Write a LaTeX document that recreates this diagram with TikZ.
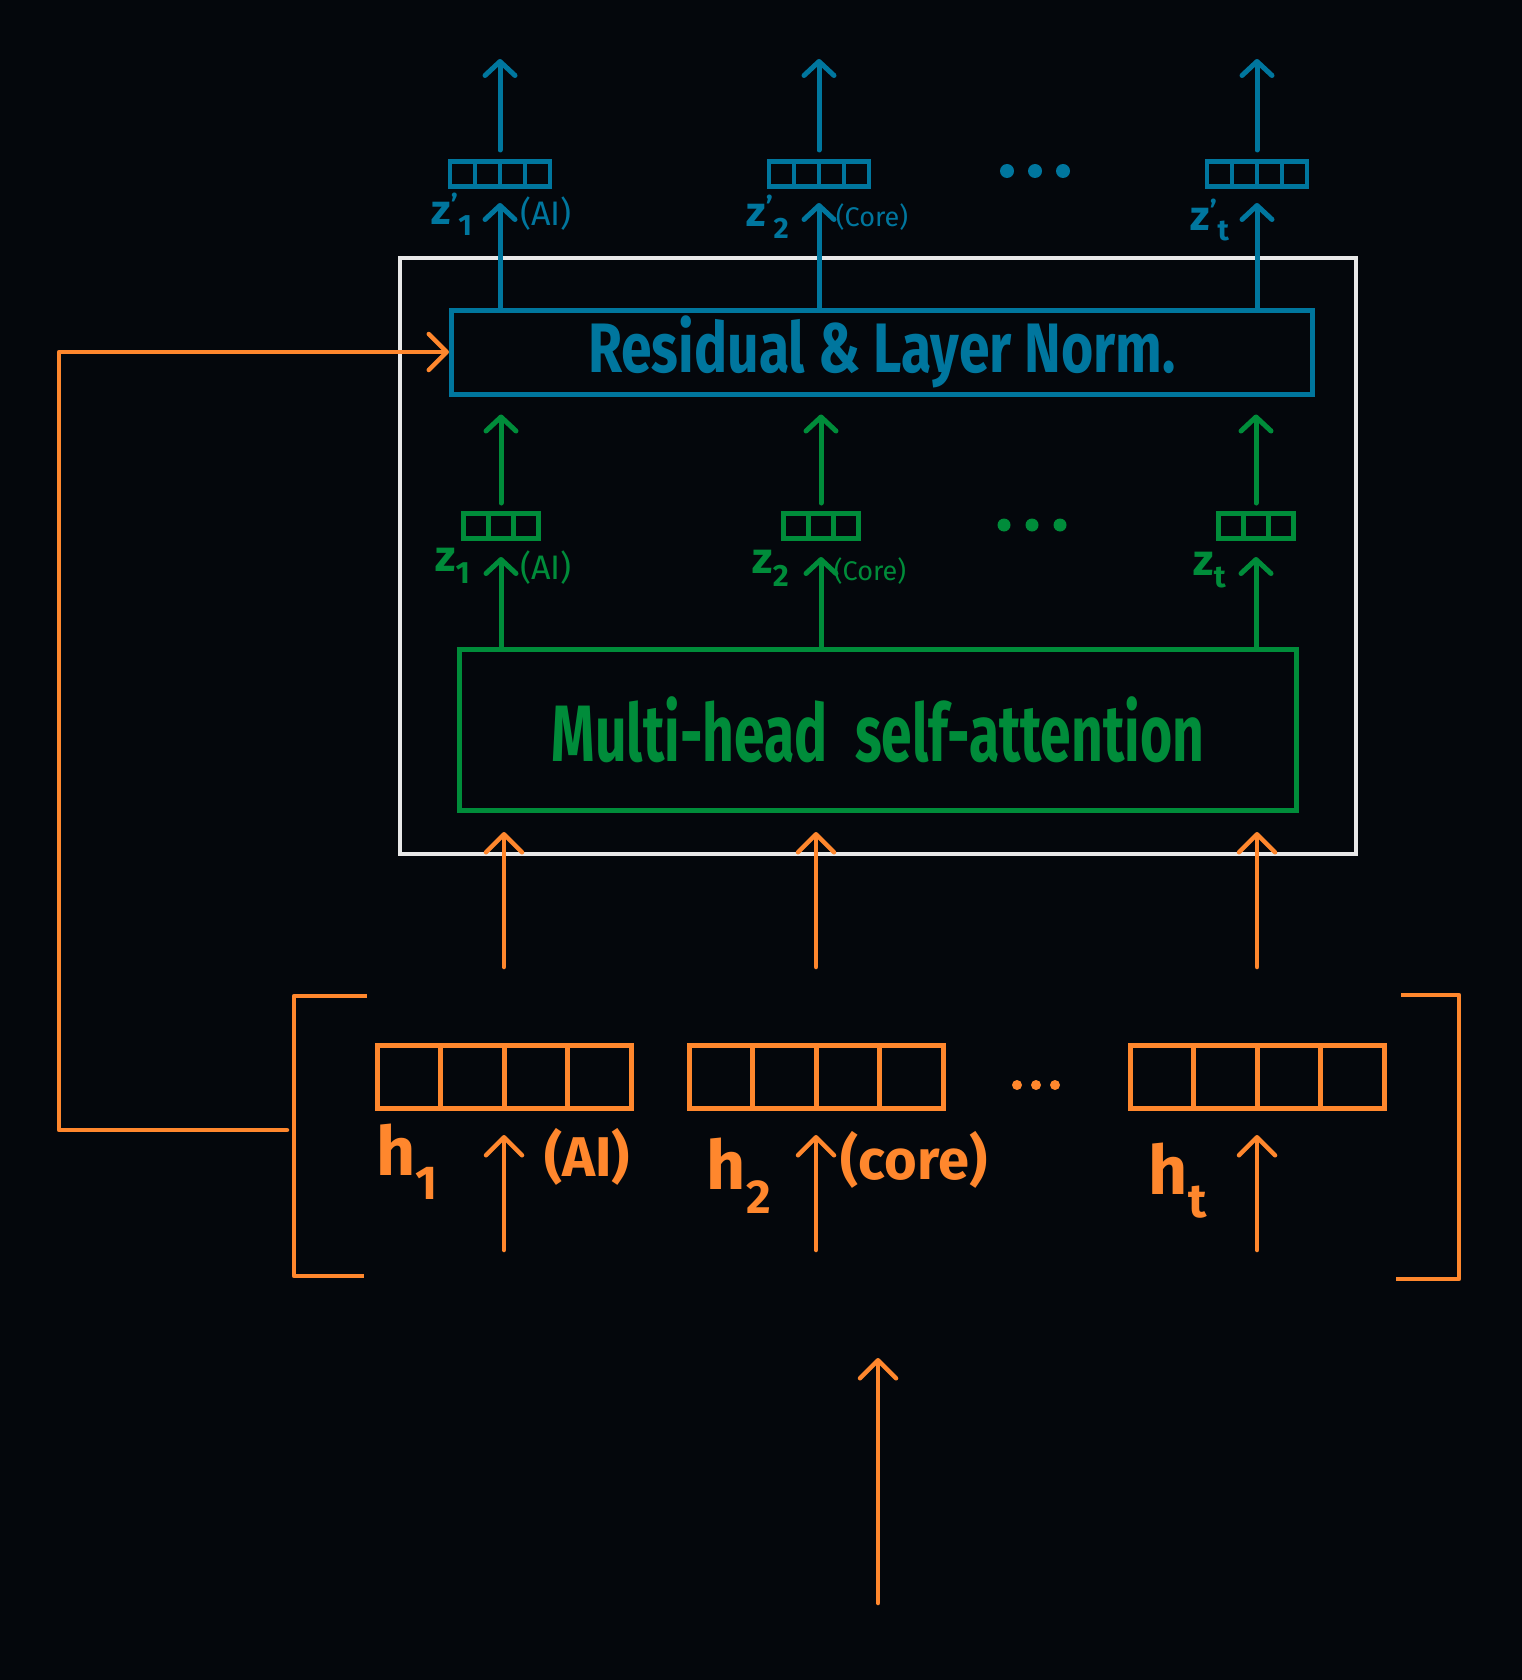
\documentclass[tikz,border=0pt]{standalone}
\usepackage{fontspec}
\setmainfont{Fira Sans}
\usepackage{graphicx}
\usetikzlibrary{arrows.meta}

\definecolor{bgdark}{RGB}{4,7,12}
\definecolor{normblue}{RGB}{0,118,158}
\definecolor{attngreen}{RGB}{0,140,58}
\definecolor{hidorange}{RGB}{255,135,45}
\definecolor{frameline}{RGB}{232,232,232}

\tikzset{
  hup/.style={draw=hidorange, line width=4.5pt, line cap=round, line join=round,
    -{Straight Barb[length=18pt,width=36pt,round]}},
  zup/.style={draw=attngreen, line width=5pt, line cap=round,
    -{Straight Barb[length=14pt,width=30pt,round]}},
  zpup/.style={draw=normblue, line width=5pt, line cap=round,
    -{Straight Barb[length=14pt,width=30pt,round]}},
  hline/.style={draw=hidorange, line width=4.5pt, line join=round},
  hcell/.style={draw=hidorange, line width=5pt, minimum size=63.5pt, inner sep=0pt},
  zcell/.style={draw=attngreen, line width=4.5pt, minimum size=25pt, inner sep=0pt},
  zpcell/.style={draw=normblue, line width=4.5pt, minimum size=25pt, inner sep=0pt},
  hname/.style={text=hidorange, font=\fontsize{68}{68}\selectfont\bfseries},
  htok/.style={text=hidorange, font=\fontsize{56}{56}\selectfont\bfseries},
  zname/.style={font=\fontsize{44}{44}\selectfont\bfseries},
  zpname/.style={font=\fontsize{42}{42}\selectfont\bfseries},
  ztok/.style={font=\fontsize{34}{34}\selectfont},
  ztoks/.style={font=\fontsize{27}{34}\selectfont},
}

\begin{document}
\begin{tikzpicture}[x=1pt,y=-1pt]
  \useasboundingbox[fill=bgdark] (0,0) rectangle (1522,1680);

  % transformer block
  \node[draw=frameline, line width=4pt, minimum width=956pt, minimum height=596pt] (block) at (878,556) {};
  \node[draw=normblue, line width=5pt, minimum width=861pt, minimum height=84pt, text=normblue,
    font=\fontsize{70}{70}\selectfont\bfseries] (norm) at (882,352)
    {\scalebox{0.79}[1]{Residual \& Layer Norm.}};
  \node[draw=attngreen, line width=5pt, minimum width=837pt, minimum height=161pt, text=attngreen,
    font=\fontsize{80}{80}\selectfont\bfseries] (mhsa) at (878,730)
    {\scalebox{0.69}[1]{Multi-head\enspace self-attention}};

  % hidden states
  \foreach \k/\x in {1/504,2/816,t/1257} {
    \coordinate (h\k) at (\x,1077);
    \foreach \i in {0,...,3}
      \node[hcell] (h\k c\i) at ({\x+63.5*(\i-1.5)},1077) {};
    \coordinate (tok\k) at (\x,1250);
    \coordinate (feed\k) at (\x,967);
    \draw[hup, shorten >=58pt] (tok\k) -- (h\k);
    \draw[hup, shorten >=19pt] (feed\k) -- (mhsa.south -| h\k);
  }
  \foreach \x in {1017,1036,1055} \fill[hidorange] (\x,1085) circle (5pt);

  \draw[hline] (367,996) -- (294,996) -- (294,1276) -- (364,1276);
  \draw[hline] (1401,995) -- (1459,995) -- (1459,1279) -- (1396,1279);

  \node[hname] (h1lab) at (407,1162) {h\textsubscript{1}};
  \node[htok] (h1tok) at (587,1157) {(AI)};
  \node[hname] (h2lab) at (739,1176) {h\textsubscript{2}};
  \node[htok] (h2tok) at (914,1160) {(core)};
  \node[hname] (htlab) at (1178,1181) {h\textsubscript{t}};

  % residual path
  \coordinate (lbr) at (287,1130);
  \coordinate (loop) at (59,352);
  \draw[hup] (lbr) -| (loop) -- (norm.west);

  % input
  \coordinate (src) at (878,1603);
  \coordinate (srctip) at (878,1358);
  \draw[hup] (src) -- (srctip);

  % attention outputs
  \foreach \k/\x in {1/501,2/821,t/1256} {
    \coordinate (z\k) at (\x,526);
    \foreach \i in {0,1,2}
      \node[zcell] (z\k c\i) at ({\x+25*(\i-1)},526) {};
    \draw[zup, shorten >=31pt] (mhsa.north -| z\k) -- (z\k);
    \draw[zup, shorten <=23pt, shorten >=18pt] (z\k) -- (norm.south -| z\k);
  }
  \foreach \x in {1004,1032,1060} \fill[attngreen] (\x,525) circle (6.5pt);

  \node[zname, text=attngreen] (z1lab) at (453,566) {z\textsubscript{1}};
  \node[ztok, text=attngreen] (z1tok) at (546,568) {(AI)};
  \node[zname, text=attngreen] (z2lab) at (771,568) {z\textsubscript{2}};
  \node[ztoks, text=attngreen] (z2tok) at (870,571) {(Core)};
  \node[zname, text=attngreen] (ztlab) at (1210,570) {z\textsubscript{t}};

  % normalised outputs
  \foreach \k/\x in {1/500,2/819,t/1257} {
    \coordinate (zp\k) at (\x,174);
    \foreach \i in {0,...,3}
      \node[zpcell] (zp\k c\i) at ({\x+25*(\i-1.5)},174) {};
    \coordinate (out\k) at (\x,59);
    \draw[zpup, shorten >=29pt] (norm.north -| zp\k) -- (zp\k);
    \draw[zpup, shorten <=24pt] (zp\k) -- (out\k);
  }
  \foreach \x in {1007,1035,1063} \fill[normblue] (\x,171) circle (7pt);

  \node[zpname, text=normblue] (zp1lab) at (452,214) {z\textsuperscript{'}\textsubscript{1}};
  \node[ztok, text=normblue] (zp1tok) at (546,214) {(AI)};
  \node[zpname, text=normblue] (zp2lab) at (768,217) {z\textsuperscript{'}\textsubscript{2}};
  \node[ztoks, text=normblue] (zp2tok) at (872,217) {(Core)};
  \node[zpname, text=normblue] (zptlab) at (1210,220) {z\textsuperscript{'}\textsubscript{t}};
\end{tikzpicture}
\end{document}
